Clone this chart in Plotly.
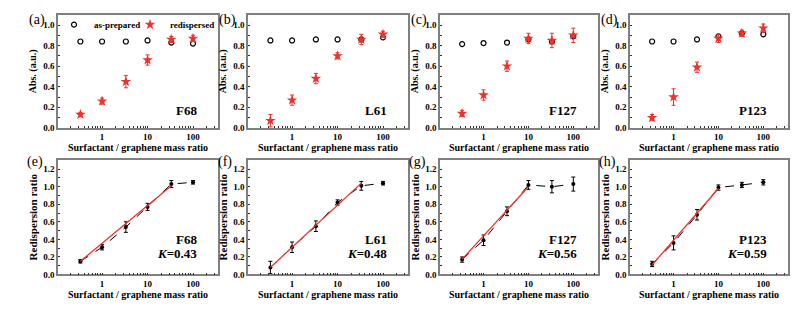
import numpy as np
import plotly.graph_objects as go
from plotly.subplots import make_subplots

# ---------------- data ----------------
ratio = [1/3, 1, 10/3, 10, 100/3, 100]
surfactants = ["F68", "L61", "F127", "P123"]
labels_top = ["(a)", "(b)", "(c)", "(d)"]
labels_bot = ["(e)", "(f)", "(g)", "(h)"]
x_tick_labels = {1: "1", 10: "10", 100: "100"}

asprep_F68 = [0.84, 0.84, 0.84, 0.85, 0.83, 0.82]
asprep_L61 = [0.85, 0.85, 0.86, 0.86, 0.86, 0.88]
asprep_F127 = [0.815, 0.825, 0.83, 0.86, 0.84, 0.89]
asprep_P123 = [0.84, 0.84, 0.86, 0.89, 0.92, 0.91]

redisp_F68 = [0.13, 0.26, 0.45, 0.66, 0.86, 0.87]
redisp_F68_err = [0.02, 0.03, 0.06, 0.05, 0.03, 0.03]
redisp_L61 = [0.07, 0.27, 0.48, 0.70, 0.86, 0.91]
redisp_L61_err = [0.06, 0.05, 0.05, 0.03, 0.05, 0.03]
redisp_F127 = [0.14, 0.32, 0.60, 0.87, 0.85, 0.90]
redisp_F127_err = [0.03, 0.05, 0.05, 0.05, 0.07, 0.07]
redisp_P123 = [0.10, 0.30, 0.59, 0.87, 0.92, 0.97]
redisp_P123_err = [0.03, 0.08, 0.05, 0.04, 0.03, 0.04]

ratio_F68 = [0.15, 0.31, 0.54, 0.77, 1.03, 1.05]
ratio_F68_err = [0.02, 0.03, 0.06, 0.04, 0.04, 0.02]
ratio_L61 = [0.08, 0.31, 0.55, 0.82, 1.01, 1.04]
ratio_L61_err = [0.07, 0.06, 0.06, 0.03, 0.05, 0.02]
ratio_F127 = [0.17, 0.39, 0.72, 1.02, 1.00, 1.03]
ratio_F127_err = [0.03, 0.06, 0.05, 0.05, 0.07, 0.08]
ratio_P123 = [0.12, 0.36, 0.68, 0.99, 1.02, 1.05]
ratio_P123_err = [0.03, 0.08, 0.06, 0.03, 0.03, 0.03]

fit_K = [0.43, 0.48, 0.56, 0.59]
fit_b = [0.355, 0.31, 0.44, 0.39]
fit_end = [100/3, 100/3, 10, 10]

asprep = [asprep_F68, asprep_L61, asprep_F127, asprep_P123]
redisp = [redisp_F68, redisp_L61, redisp_F127, redisp_P123]
redisp_err = [redisp_F68_err, redisp_L61_err, redisp_F127_err, redisp_P123_err]
rr = [ratio_F68, ratio_L61, ratio_F127, ratio_P123]
rr_err = [ratio_F68_err, ratio_L61_err, ratio_F127_err, ratio_P123_err]

# ---------------- layout helpers ----------------
W, H = 801, 309
FONT = "Liberation Serif"
RED = "#f0302a"
xpix = [[58, 218], [248, 408], [440, 598], [630, 788]]
ypix = [[15, 130], [163, 279]]

fig = make_subplots(rows=2, cols=4)

for i in range(4):
    fig.add_trace(go.Scatter(
        x=ratio, y=asprep[i], mode="markers", name="<b>as-prepared</b>",
        marker=dict(symbol="circle-open", size=5, color="black", line=dict(width=1.2)),
        showlegend=(i == 0), legend="legend"), row=1, col=i + 1)
    fig.add_trace(go.Scatter(
        x=ratio, y=redisp[i], mode="markers", name="<b>redispersed</b>",
        marker=dict(symbol="star", size=8, color=RED),
        error_y=dict(type="data", array=redisp_err[i], color=RED, thickness=1, width=2),
        showlegend=(i == 0), legend="legend2"), row=1, col=i + 1)
    fig.add_trace(go.Scatter(
        x=ratio, y=rr[i], mode="lines+markers",
        line=dict(color="black", width=1, dash="dash"),
        marker=dict(symbol="circle", size=4, color="black"),
        error_y=dict(type="data", array=rr_err[i], color="black", thickness=1, width=2),
        showlegend=False), row=2, col=i + 1)
    xf = np.array([ratio[0], fit_end[i]])
    fig.add_trace(go.Scatter(
        x=xf, y=fit_b[i] + fit_K[i] * np.log10(xf), mode="lines",
        line=dict(color=RED, width=1.3), showlegend=False), row=2, col=i + 1)

tickfont = dict(family=FONT, size=9, color="black")

# x ticks: majors labelled, minors (2..9 per decade) unlabelled
xt_vals, xt_text = [], []
for dec in [0.1, 1, 10, 100]:
    for m in range(1, 10):
        v = round(dec * m, 6)
        if 0.11 <= v <= 350:
            xt_vals.append(v)
            xt_text.append("<b>%s</b>" % x_tick_labels[v] if v in x_tick_labels else "")

annotations = []
for r in range(2):
    ymax = 1.0 if r == 0 else 1.2
    yt_vals = [round(k * 0.1, 1) for k in range(int(round(ymax * 10)) + 1)]
    yt_text = ["<b>%.1f</b>" % v if int(round(v * 10)) % 2 == 0 else "" for v in yt_vals]
    for i in range(4):
        idx = r * 4 + i + 1
        sfx = "" if idx == 1 else str(idx)
        x0, x1 = xpix[i]
        y0, y1 = ypix[r]
        fig.layout["xaxis" + sfx].update(
            domain=[x0 / W, x1 / W], anchor="y" + sfx,
            type="log", range=[-0.97, 2.55],
            tickmode="array", tickvals=xt_vals, ticktext=xt_text,
            ticks="inside", ticklen=2, tickwidth=1, tickcolor="#333333",
            showline=True, linecolor="#808080", linewidth=1.5, mirror=True,
            showgrid=False, zeroline=False, tickfont=tickfont)
        yr = [0, 1.1] if r == 0 else [0, 1.3]
        fig.layout["yaxis" + sfx].update(
            domain=[1 - y1 / H, 1 - y0 / H], anchor="x" + sfx,
            range=yr, tickmode="array", tickvals=yt_vals, ticktext=yt_text,
            ticks="inside", ticklen=2.5, tickwidth=1, tickcolor="#333333",
            showline=True, linecolor="#808080", linewidth=1.5, mirror=True,
            showgrid=False, zeroline=False, tickfont=tickfont)
        annotations.append(dict(
            text="<b>Surfactant / graphene mass ratio</b>", xref="paper", yref="paper",
            x=(x0 + x1) / 2 / W, y=1 - (y1 + 20) / H, showarrow=False,
            xanchor="center", yanchor="middle",
            font=dict(family=FONT, size=10, color="black")))
        annotations.append(dict(
            text="<b>Abs. (a.u.)</b>" if r == 0 else "<b>Redispersion ratio</b>",
            xref="paper", yref="paper", x=(x0 - 25) / W, y=1 - (y0 + y1) / 2 / H,
            textangle=-90, showarrow=False, xanchor="center", yanchor="middle",
            font=dict(family=FONT, size=10 if r == 0 else 11, color="black")))
        lab = labels_top[i] if r == 0 else labels_bot[i]
        annotations.append(dict(
            text=lab, xref="paper", yref="paper",
            x=(x0 - (21 if r == 0 else 23)) / W, y=1 - (y0 + (5 if r == 0 else 2)) / H,
            showarrow=False, xanchor="center", yanchor="middle",
            font=dict(family=FONT, size=14, color="black")))
        if r == 0:
            annotations.append(dict(
                text="<b>" + surfactants[i] + "</b>", xref="x" + sfx + " domain", yref="y" + sfx + " domain",
                x=0.88, y=0.15, showarrow=False, xanchor="right", yanchor="middle",
                font=dict(family=FONT, size=13, color="black")))
        else:
            annotations.append(dict(
                text="<b>" + surfactants[i] + "</b>", xref="x" + sfx + " domain", yref="y" + sfx + " domain",
                x=0.88, y=0.31, showarrow=False, xanchor="right", yanchor="middle",
                font=dict(family=FONT, size=13, color="black")))
            annotations.append(dict(
                text="<b><i>K</i>=%.2f</b>" % fit_K[i], xref="x" + sfx + " domain", yref="y" + sfx + " domain",
                x=0.88, y=0.18, showarrow=False, xanchor="right", yanchor="middle",
                font=dict(family=FONT, size=13, color="black")))

legfont = dict(family=FONT, size=9, color="black")
fig.update_layout(
    width=W, height=H, margin=dict(l=0, r=0, t=0, b=0),
    paper_bgcolor="white", plot_bgcolor="white",
    annotations=annotations,
    legend=dict(orientation="h", x=54 / W, y=1 - 25 / H, xanchor="left", yanchor="middle",
                bgcolor="rgba(0,0,0,0)", font=legfont, itemwidth=30),
    legend2=dict(orientation="h", x=130 / W, y=1 - 25 / H, xanchor="left", yanchor="middle",
                 bgcolor="rgba(0,0,0,0)", font=legfont, itemwidth=30),
)

fig.write_html("out.html", config={"displayModeBar": False},
               post_script="document.body.style.margin='0';")
